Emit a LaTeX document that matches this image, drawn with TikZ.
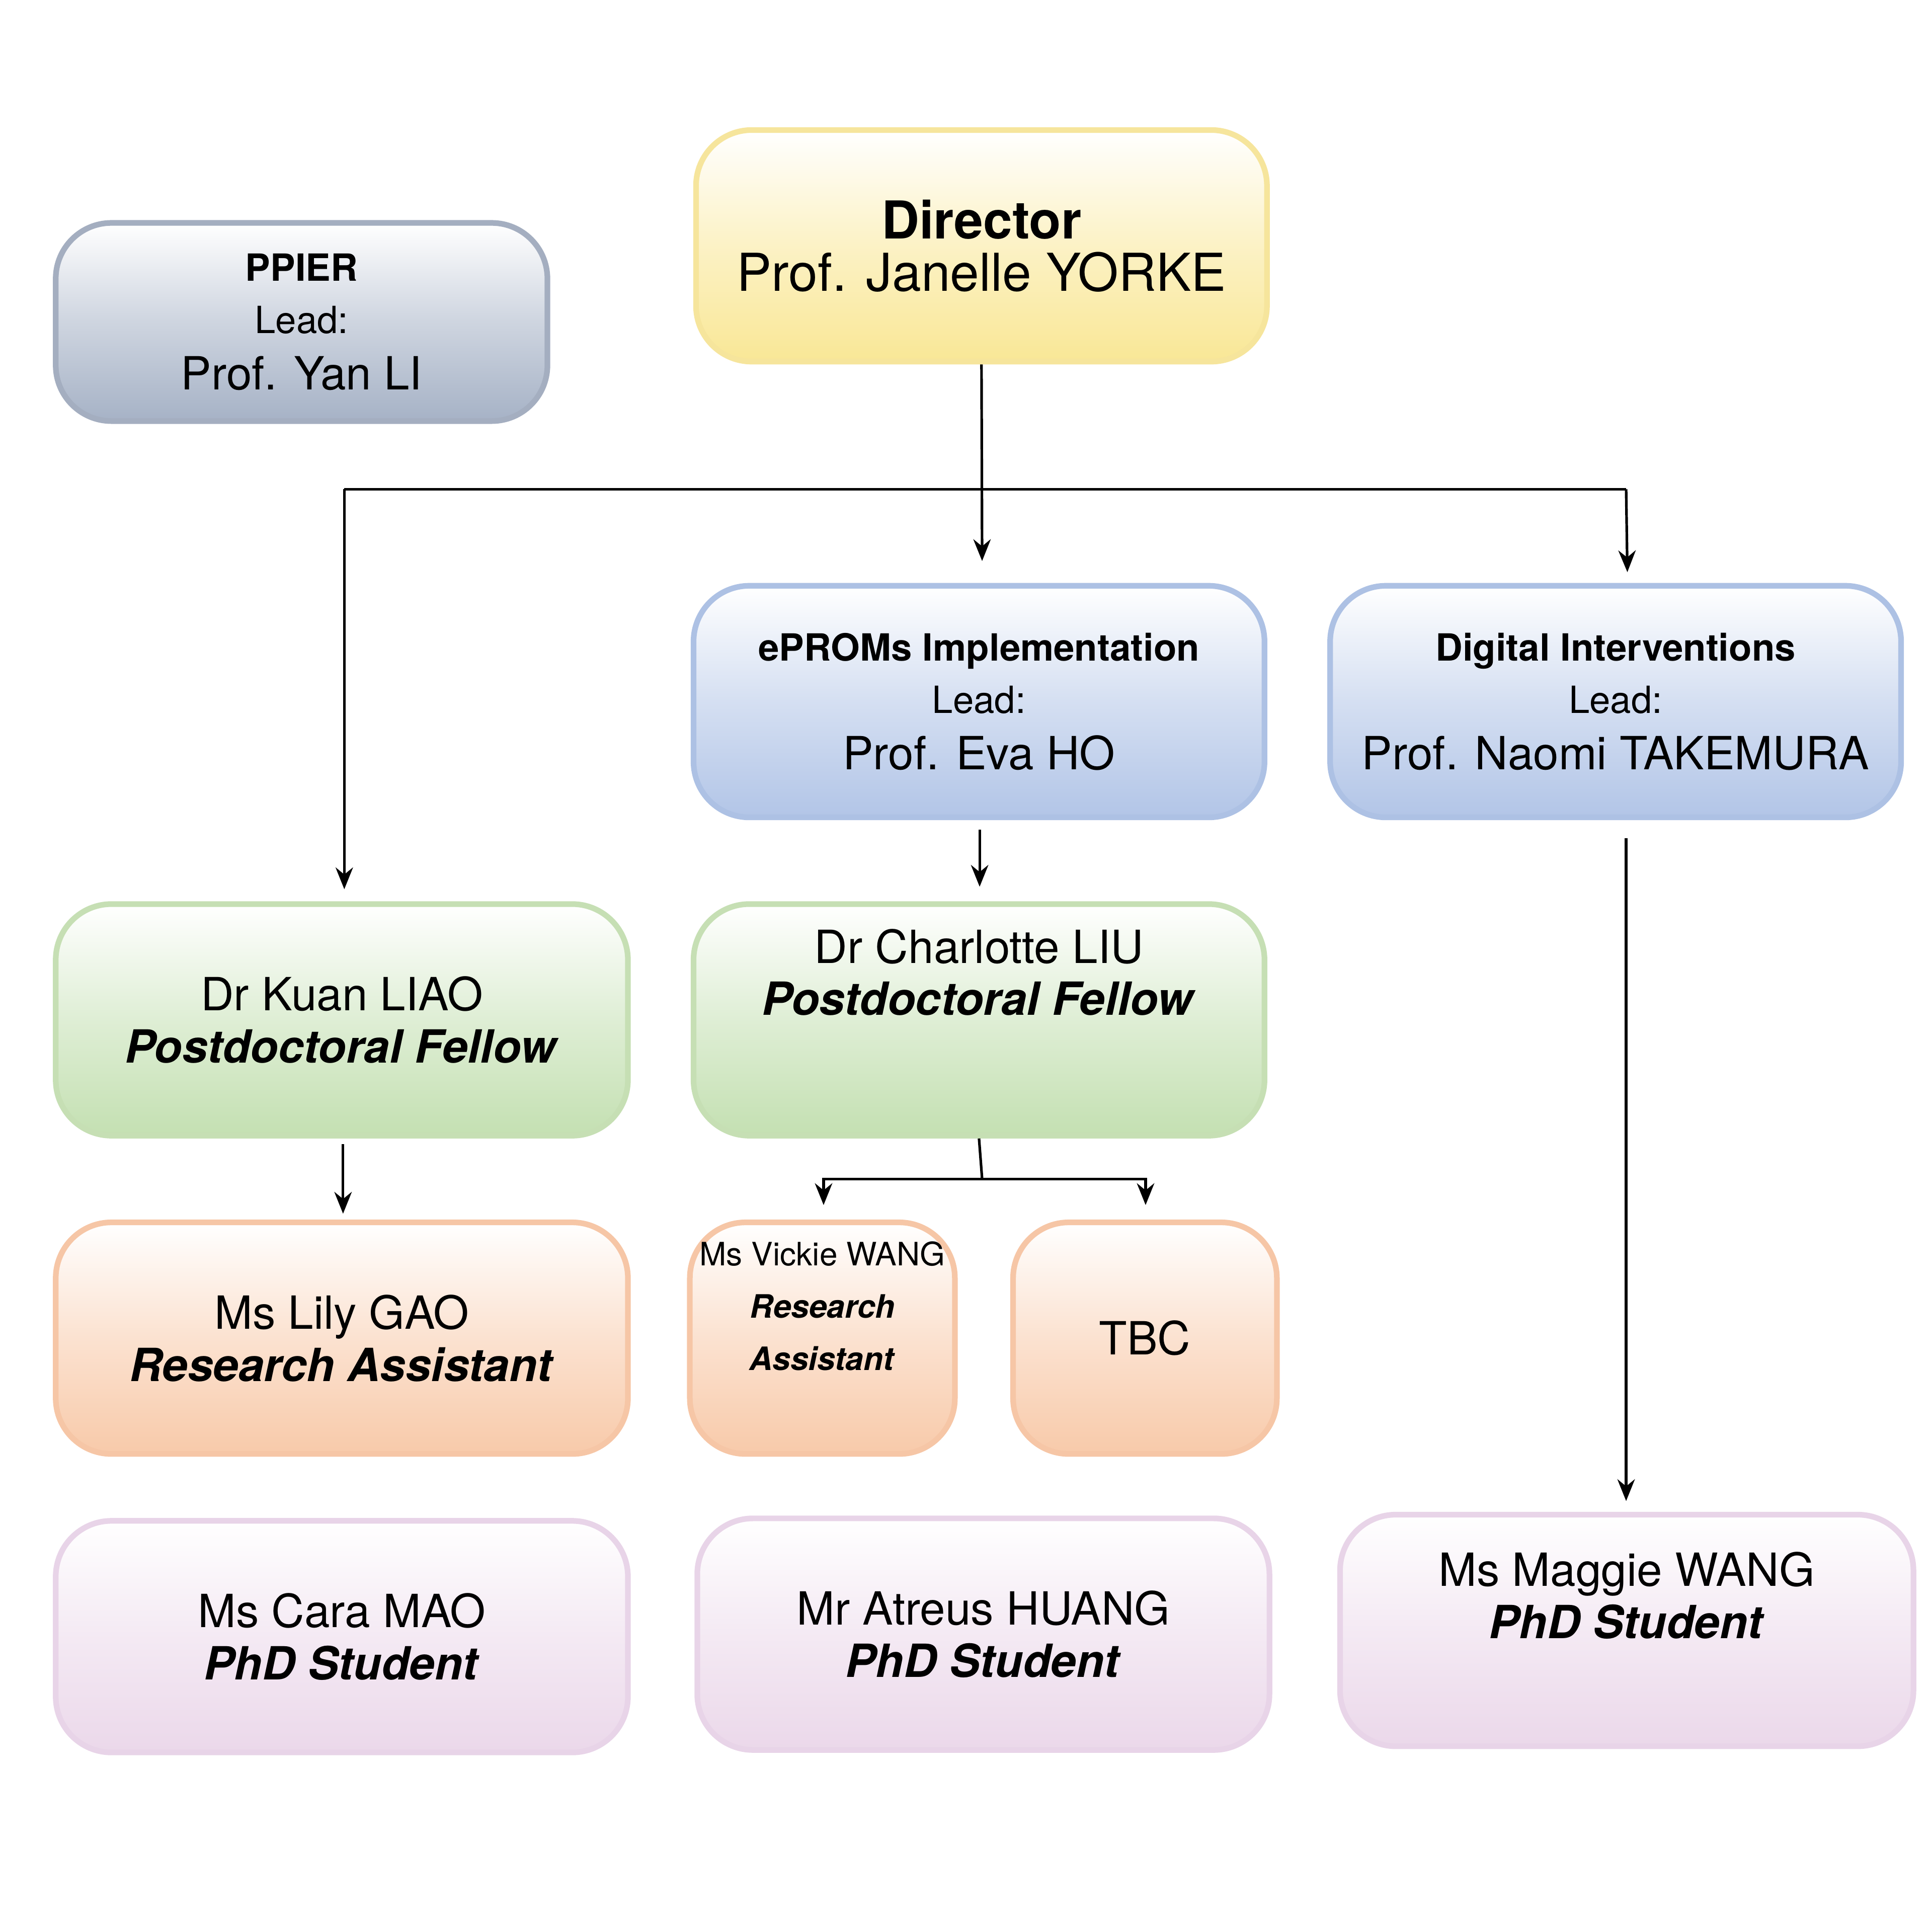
\documentclass[tikz,border=0pt]{standalone}
\usepackage{fontspec}
\setmainfont{TeX Gyre Heros}
\usetikzlibrary{arrows.meta}
\definecolor{cY}{HTML}{F9E796}\definecolor{bY}{HTML}{F6E59C}
\definecolor{cG}{HTML}{A6B2C6}\definecolor{bG}{HTML}{A4AEC0}
\definecolor{cB}{HTML}{B2C5E7}\definecolor{bB}{HTML}{ADC1E4}
\definecolor{cN}{HTML}{C4E0B2}\definecolor{bN}{HTML}{C6DFB4}
\definecolor{cO}{HTML}{F8CAAA}\definecolor{bO}{HTML}{F6C6A6}
\definecolor{cP}{HTML}{EBD8EA}\definecolor{bP}{HTML}{E8D4E8}
\tikzset{
 box/.style={draw=b#1, line width=1.3pt, rounded corners=0.45cm, top color=white, bottom color=c#1, middle color=c#1!55!white, align=center, inner sep=0pt, minimum height=1.87cm},
 conn/.style={line width=0.6pt, -{Stealth[length=5pt,width=4pt]}},
 plain/.style={line width=0.6pt}
}
\newcommand{\fa}{\fontsize{12}{13.5}\selectfont}
\newcommand{\fb}{\fontsize{8.6}{10}\selectfont}
\newcommand{\fc}{\fontsize{10.5}{11.4}\selectfont}
\newcommand{\fd}{\fontsize{7.4}{8.5}\selectfont}
\begin{document}
\begin{tikzpicture}
\useasboundingbox (0,0) rectangle (15.6,-15.6);
\node[box=Y, minimum width=4.61cm] (dir) at (7.925,-1.985) {\fa\textbf{Director}\\\fa Prof. Janelle YORKE};
\node[box=G, minimum width=3.97cm, minimum height=1.6cm] (ppier) at (2.435,-2.6) {\fb\textbf{PPIER}\\\fb Lead:\\[1pt]\fc Prof. Yan LI};
\node[box=B, minimum width=4.61cm] (eprom) at (7.905,-5.665) {\fb\textbf{ePROMs Implementation}\\\fb Lead:\\[1pt]\fc Prof. Eva HO};
\node[box=B, minimum width=4.61cm] (dig) at (13.045,-5.665) {\fb\textbf{Digital Interventions}\\\fb Lead:\\[1pt]\fc Prof. Naomi TAKEMURA};
\node[box=N, minimum width=4.62cm] (liao) at (2.76,-8.235) {\fc Dr Kuan LIAO\\\fc\textbf{\textit{Postdoctoral Fellow}}};
\node[box=N, minimum width=4.61cm] (liu) at (7.905,-8.235) {\fc Dr Charlotte LIU\\\fc\textbf{\textit{Postdoctoral Fellow}}\\[0.35cm]};
\node[box=O, minimum width=4.62cm] (gao) at (2.76,-10.805) {\fc Ms Lily GAO\\\fc\textbf{\textit{Research Assistant}}};
\node[box=O, minimum width=2.14cm] (vic) at (6.64,-10.805) {\fd Ms Vickie WANG\\\fd\textbf{\textit{Research}}\\\fd\textbf{\textit{Assistant}}\\[0.1cm]};
\node[box=O, minimum width=2.13cm] (tbc) at (9.245,-10.805) {\fc TBC};
\node[box=P, minimum width=4.62cm] (mao) at (2.76,-13.215) {\fc Ms Cara MAO\\\fc\textbf{\textit{PhD Student}}};
\node[box=P, minimum width=4.62cm] (hua) at (7.94,-13.195) {\fc Mr Atreus HUANG\\\fc\textbf{\textit{PhD Student}}};
\node[box=P, minimum width=4.63cm] (mag) at (13.135,-13.165) {\fc Ms Maggie WANG\\\fc\textbf{\textit{PhD Student}}\\[0.15cm]};
% connectors
\coordinate (h) at (7.93,-3.95);
\coordinate (hl) at (2.78,-3.95);
\coordinate (hr) at (13.13,-3.95);
\draw[conn] (dir.south) -- (7.93,-4.53);
\draw[plain] (hl) -- (hr);
\draw[conn] (hl) -- (2.78,-7.18);
\draw[conn] (hr) -- (13.14,-4.62);
\draw[conn] (7.91,-6.7) -- (7.91,-7.16);
\draw[conn] (13.13,-6.77) -- (13.13,-12.12);
\draw[conn] (2.77,-9.24) -- (2.77,-9.8);
\coordinate (s) at (7.93,-9.52);
\draw[plain] (liu.south) -- (s);
\draw[conn] (s) -| (6.65,-9.73);
\draw[conn] (s) -| (9.25,-9.73);
\end{tikzpicture}
\end{document}
